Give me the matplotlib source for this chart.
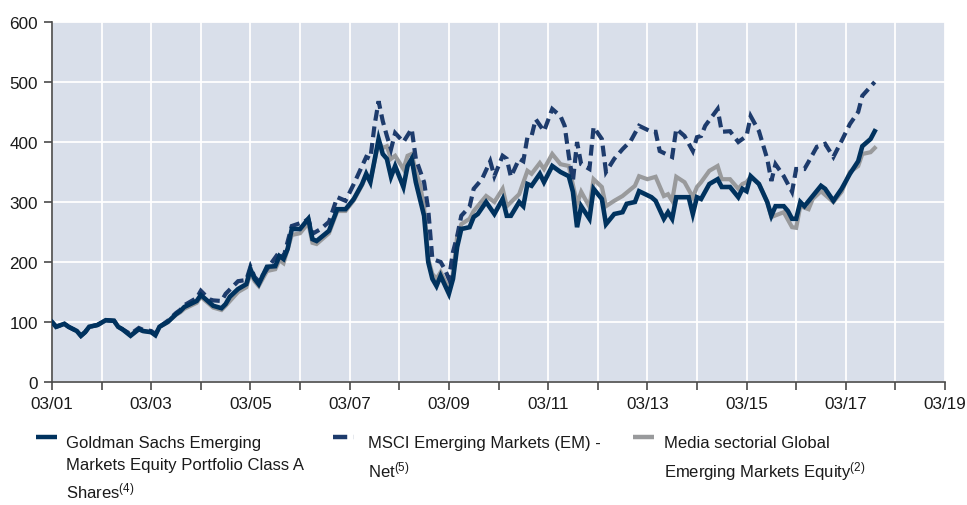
#!/usr/bin/env python3

import numpy as np
import matplotlib
matplotlib.use('Agg')
import matplotlib.pyplot as plt
from matplotlib.lines import Line2D
from matplotlib import font_manager

# months counted from March 2001
gs_month = [0, 1, 3, 4, 6, 7, 8, 9, 11, 13, 15, 16, 17, 19, 21, 22, 24, 25, 26, 28,
	30, 31, 32, 35, 36, 38, 39, 41, 42, 43, 45, 47, 48, 49, 50, 52, 54, 55, 56, 57,
	58, 60, 62, 63, 64, 67, 69, 71, 73, 75, 76, 77, 79, 80, 81, 82, 83, 85, 86, 87,
	88, 89, 90, 91, 92, 93, 94, 96, 97, 98, 99, 101, 102, 103, 105, 107, 109, 110, 111, 113,
	114, 115, 116, 118, 119, 121, 123, 125, 126, 127, 128, 130, 131, 133, 134, 136, 138, 139, 141, 142,
	145, 146, 148, 149, 150, 151, 154, 155, 156, 157, 159, 161, 162, 164, 166, 167, 168, 169, 171, 173,
	174, 175, 177, 178, 179, 180, 181, 182, 184, 186, 187, 189, 191, 193, 195, 196, 198, 199]
gs_value = [100, 92, 97, 92, 85, 77, 83, 92, 95, 103, 102, 92, 88, 77, 88, 85, 83, 78, 92, 100,
	113, 118, 125, 135, 145, 133, 127, 123, 130, 142, 155, 163, 188, 172, 163, 192, 193, 210, 205, 222,
	255, 255, 272, 238, 235, 252, 288, 288, 305, 330, 347, 333, 405, 380, 372, 342, 360, 325, 360, 372,
	333, 305, 277, 200, 172, 160, 177, 147, 172, 225, 255, 258, 275, 280, 300, 280, 305, 277, 277, 300,
	293, 330, 327, 347, 333, 360, 350, 343, 317, 258, 293, 272, 322, 305, 263, 280, 283, 297, 300, 318,
	308, 302, 272, 283, 272, 308, 308, 280, 308, 305, 330, 338, 325, 325, 308, 322, 318, 343, 330, 300,
	277, 293, 293, 285, 272, 272, 300, 293, 310, 327, 322, 302, 322, 347, 368, 393, 405, 418]

msci_month = [0, 1, 3, 4, 6, 7, 8, 9, 11, 13, 15, 16, 17, 19, 21, 22, 24, 25, 26, 28,
	30, 31, 32, 35, 36, 38, 39, 41, 42, 45, 47, 48, 49, 50, 52, 55, 56, 58, 61, 62,
	63, 65, 67, 69, 71, 73, 76, 77, 78, 79, 80, 81, 82, 83, 85, 87, 88, 90, 91, 92,
	94, 95, 96, 97, 98, 99, 101, 102, 104, 106, 107, 109, 110, 111, 113, 114, 115, 116, 117, 119,
	121, 123, 124, 125, 126, 127, 128, 130, 131, 133, 134, 136, 138, 140, 142, 145, 146, 147, 150, 151,
	153, 155, 156, 157, 158, 161, 162, 164, 166, 168, 169, 171, 173, 174, 175, 177, 179, 180, 182, 183,
	185, 187, 189, 191, 193, 195, 196, 199]
msci_value = [100, 92, 97, 92, 85, 77, 83, 92, 95, 103, 102, 92, 88, 80, 90, 87, 85, 80, 92, 102,
	115, 120, 128, 140, 152, 138, 136, 135, 147, 168, 170, 192, 175, 168, 188, 217, 208, 260, 267, 272,
	247, 255, 267, 308, 302, 330, 375, 372, 427, 468, 435, 410, 388, 415, 400, 422, 372, 333, 288, 205,
	200, 188, 172, 217, 243, 277, 292, 322, 338, 368, 343, 377, 372, 342, 372, 368, 408, 410, 438, 418,
	455, 443, 427, 377, 335, 400, 363, 355, 425, 405, 350, 372, 388, 402, 427, 417, 417, 385, 375, 422,
	410, 385, 408, 410, 427, 455, 417, 418, 400, 410, 443, 418, 372, 335, 363, 343, 317, 355, 355, 367,
	392, 397, 375, 402, 430, 450, 477, 500]

media_month = [0, 1, 3, 4, 6, 7, 8, 9, 11, 13, 15, 16, 17, 19, 21, 22, 24, 25, 26, 28,
	30, 31, 32, 35, 36, 38, 39, 41, 42, 45, 47, 48, 49, 50, 52, 54, 55, 56, 58, 60,
	62, 63, 64, 67, 69, 71, 73, 75, 76, 77, 79, 80, 81, 82, 83, 85, 86, 87, 88, 89,
	90, 91, 92, 93, 94, 96, 97, 98, 99, 101, 102, 105, 107, 109, 110, 113, 115, 116, 118, 119,
	121, 123, 125, 127, 128, 130, 131, 133, 134, 136, 138, 141, 142, 144, 146, 148, 149, 150, 151, 153,
	155, 156, 157, 159, 161, 162, 164, 166, 167, 168, 169, 171, 173, 174, 177, 179, 180, 181, 183, 184,
	186, 189, 191, 193, 195, 196, 198, 199]
media_value = [100, 92, 97, 92, 85, 77, 83, 92, 95, 103, 102, 92, 88, 78, 88, 85, 83, 78, 92, 100,
	112, 116, 122, 132, 142, 130, 124, 120, 127, 150, 158, 182, 168, 160, 185, 188, 203, 198, 245, 248,
	265, 232, 230, 248, 285, 285, 303, 328, 345, 335, 400, 390, 393, 372, 377, 355, 377, 380, 350, 330,
	290, 205, 180, 172, 183, 155, 180, 242, 263, 272, 285, 310, 300, 322, 293, 313, 352, 347, 365, 355,
	380, 363, 360, 297, 317, 292, 338, 325, 293, 302, 310, 327, 343, 338, 342, 310, 313, 302, 342, 333,
	308, 325, 333, 352, 360, 338, 338, 322, 330, 333, 342, 330, 300, 275, 283, 258, 257, 293, 288, 305,
	318, 300, 317, 350, 360, 380, 383, 390]

tick_labels = ["03/01", "", "03/03", "", "03/05", "", "03/07", "", "03/09", "",
	"03/11", "", "03/13", "", "03/15", "", "03/17", "", "03/19"]

gs_label = "Goldman Sachs Emerging\nMarkets Equity Portfolio Class A\nShares$^{(4)}$"
msci_label = "MSCI Emerging Markets (EM) -\nNet$^{(5)}$"
media_label = "Media sectorial Global\nEmerging Markets Equity$^{(2)}$"

NAVY = '#00325e'
NAVY_DASH = '#1d3b6c'
GREY = '#999a9c'
BG = '#d9dfea'

# the original uses a condensed grotesque; take the narrowest installed sans
installed = {f.name for f in font_manager.fontManager.ttflist}
FONT = 'Liberation Sans Narrow' if 'Liberation Sans Narrow' in installed else 'Liberation Sans'
TICK_SIZE = 13 if FONT.endswith('Narrow') else 12.3
TEXT_SIZE = 13.5 if FONT.endswith('Narrow') else 12

plt.rcParams['font.family'] = [FONT, 'DejaVu Sans']
plt.rcParams['mathtext.fontset'] = 'custom'
plt.rcParams['mathtext.rm'] = FONT
plt.rcParams['mathtext.it'] = FONT


def to_year(months):
	return 2001 + (2 + np.array(months)) / 12.0


fig = plt.figure(figsize=(9.67, 5.06), dpi=100)
ax = fig.add_axes([52 / 967, 123 / 506, 893 / 967, 360 / 506])
ax.set_facecolor(BG)

ax.plot(to_year(media_month), media_value, color=GREY, lw=3.0, solid_joinstyle='miter', zorder=3)
ax.plot(to_year(msci_month), msci_value, color=NAVY_DASH, lw=3.0, dashes=(2.6, 1.4),
	dash_joinstyle='miter', dash_capstyle='butt', zorder=4)
ax.plot(to_year(gs_month), gs_value, color=NAVY, lw=3.3, solid_joinstyle='miter', zorder=5)

start = 2001 + 2 / 12.0
ticks = [start + k for k in range(len(tick_labels))]
ax.set_xlim(ticks[0], ticks[-1])
ax.set_ylim(0, 600)
ax.set_xticks(ticks)
ax.set_xticklabels(tick_labels)
ax.set_yticks(range(0, 601, 100))

ax.grid(True, color='white', lw=1.3, zorder=1)
ax.set_axisbelow(True)
for side in ('top', 'right'):
	ax.spines[side].set_visible(False)
for side in ('left', 'bottom'):
	ax.spines[side].set_color('#4a4a4a')
	ax.spines[side].set_linewidth(1.2)
ax.tick_params(direction='out', length=6, width=1.2, color='#4a4a4a',
	labelsize=TICK_SIZE, labelcolor='#1a1a1a', pad=4)

# legend, drawn by hand to get the wrapped three-column layout
def legend_entry(x_handle, x_text, label, **line_kw):
	y = 1 - 438 / 506
	fig.add_artist(Line2D([x_handle / 967, (x_handle + 21) / 967], [y, y],
		transform=fig.transFigure, **line_kw))
	fig.text(x_text / 967, 1 - 436 / 506, label, ha='left', va='top',
		fontsize=TEXT_SIZE, color='#1a1a1a', linespacing=1.55)

legend_entry(36, 66, gs_label, color=NAVY, lw=3.2, solid_capstyle='butt')
legend_entry(333, 368, msci_label, color=NAVY_DASH, lw=3.2, dashes=(3.2, 1.5), dash_capstyle='butt')
legend_entry(633, 664, media_label, color=GREY, lw=3.2, solid_capstyle='butt')

fig.savefig('out.png', dpi=100)
